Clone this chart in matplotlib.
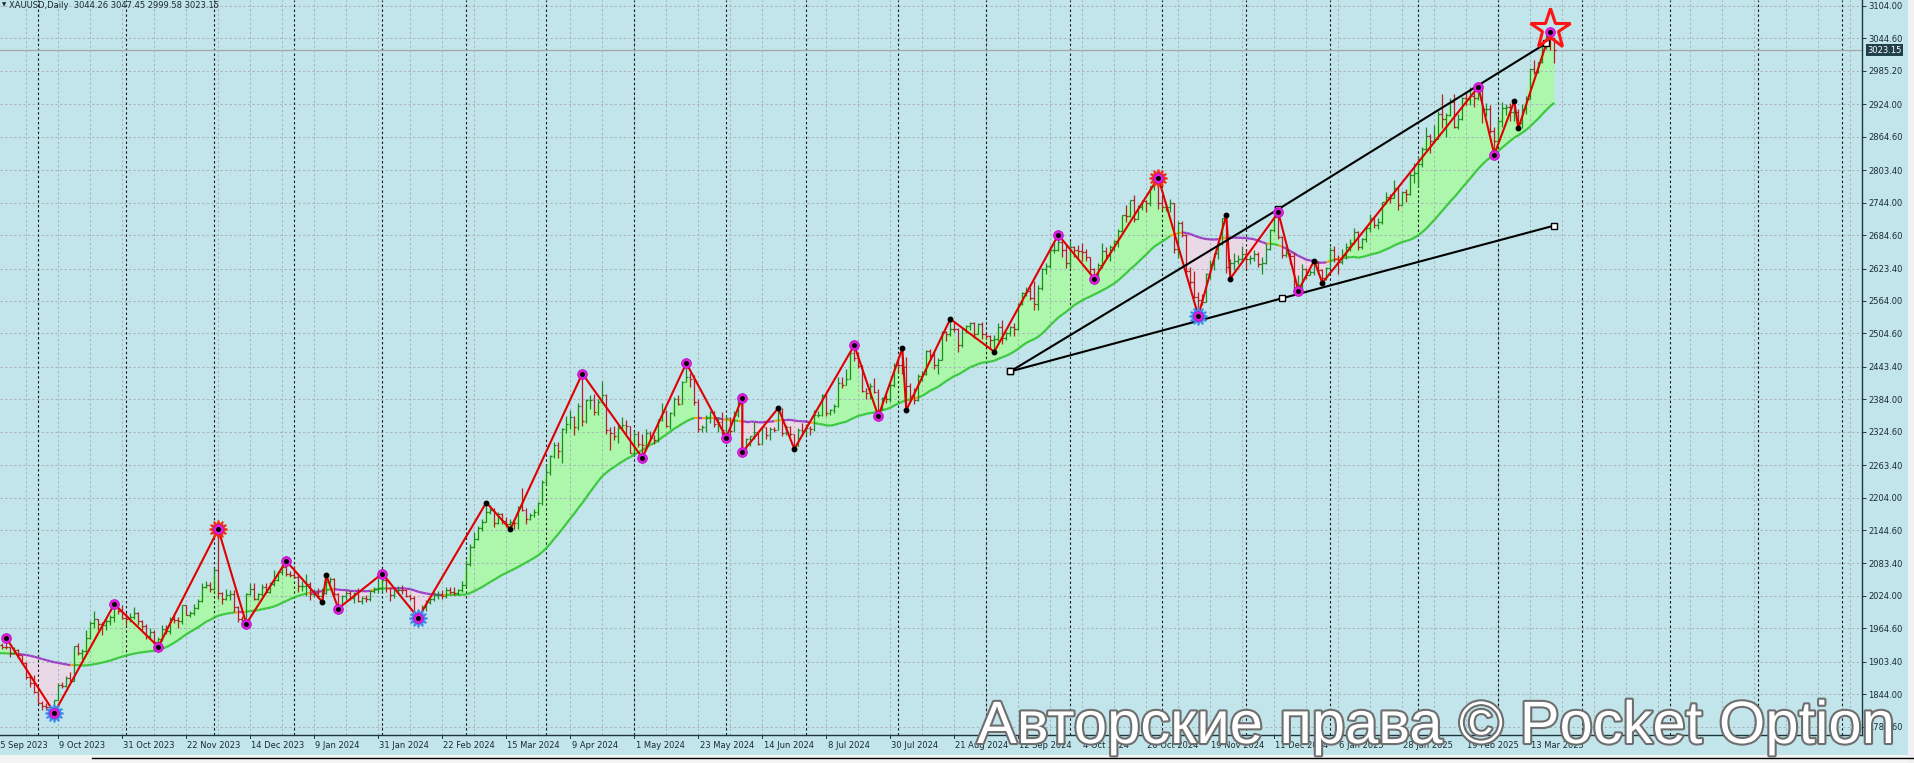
import numpy as np
import pandas as pd
import matplotlib
matplotlib.use("Agg")
import matplotlib.pyplot as plt
import matplotlib.patheffects as pe
import matplotlib.transforms as mtransforms
from matplotlib.collections import LineCollection
from matplotlib.patches import Rectangle
from matplotlib.lines import Line2D

# ---- data: XAUUSD daily bars, 18 Sep 2023 .. 21 Mar 2025 ----
first_day = "2023-09-18"
holidays = ["2023-12-25", "2024-01-01", "2024-03-29", "2024-12-25", "2025-01-01"]

# closes before the first visible bar (only used for the moving average)
warmup_close = [1944, 1934, 1934, 1943, 1936, 1925, 1927, 1913, 1914, 1907, 1901, 1892,
                1889, 1889, 1895, 1898, 1915, 1917, 1914, 1920, 1937, 1942, 1940,
                1940, 1939, 1926, 1917, 1919, 1919, 1922, 1913, 1908, 1910, 1924]

close = [
    1934, 1931, 1930, 1920, 1925, 1916, 1901, 1875, 1865, 1849,
    1828, 1822, 1821, 1820, 1833, 1861, 1860, 1874, 1868, 1932, 1920, 1923, 1947, 1974, 1981, 1973, 1970, 1979, 1985, 2006, 1996, 1983,
    1982, 1985, 1992, 1978, 1969, 1950, 1958, 1940, 1946, 1963, 1959, 1981, 1980, 1978, 2008, 1990, 1992, 2002, 2014, 2041, 2044, 2036,
    2072, 2029, 2019, 2025, 2028, 2004, 1982, 1979, 2027, 2036, 2019, 2027, 2040, 2031, 2045, 2053, 2067, 2077, 2065, 2063,
    2059, 2042, 2043, 2045, 2027, 2030, 2024, 2029, 2049, 2055, 2028, 2006, 2023, 2029, 2021, 2029, 2014, 2020, 2018, 2033, 2037, 2039,
    2054, 2039, 2025, 2035, 2035, 2034, 2024, 2020, 1992, 1992, 2004, 2013, 2018, 2025, 2025, 2024, 2035, 2031, 2030, 2034, 2044,
    2083, 2114, 2128, 2148, 2160, 2178, 2182, 2158, 2174, 2162, 2155, 2160, 2157, 2186, 2181, 2165, 2172, 2178, 2195, 2233,
    2251, 2280, 2300, 2290, 2329, 2339, 2352, 2333, 2372, 2344, 2383, 2383, 2361, 2379, 2392, 2327, 2322, 2316, 2332, 2337, 2335, 2286,
    2320, 2303, 2301, 2323, 2314, 2309, 2346, 2360, 2336, 2358, 2385, 2376, 2415, 2425, 2421, 2379, 2329, 2333, 2350, 2360, 2338, 2343, 2327,
    2350, 2326, 2355, 2375, 2293, 2311, 2316, 2324, 2303, 2333, 2319, 2329, 2328, 2360, 2322, 2334, 2320, 2298, 2327, 2326,
    2332, 2330, 2356, 2356, 2392, 2359, 2364, 2371, 2414, 2411, 2422, 2469, 2459, 2445, 2400, 2396, 2409, 2398, 2364, 2387, 2384, 2411, 2447,
    2446, 2443, 2409, 2390, 2382, 2427, 2431, 2472, 2465, 2447, 2456, 2507, 2504, 2513, 2512, 2484, 2512, 2518, 2524, 2504, 2521, 2503,
    2499, 2493, 2495, 2516, 2497, 2506, 2516, 2512, 2558, 2578, 2582, 2570, 2559, 2587, 2622, 2628, 2657, 2657, 2672, 2658, 2634,
    2662, 2658, 2656, 2653, 2644, 2622, 2608, 2630, 2656, 2649, 2662, 2674, 2692, 2721, 2720, 2748, 2714, 2736, 2747, 2743, 2774, 2788, 2743,
    2736, 2736, 2743, 2659, 2706, 2685, 2618, 2598, 2572, 2565, 2563, 2613, 2631, 2651, 2670, 2715, 2626, 2633, 2638, 2640, 2650,
    2640, 2643, 2650, 2632, 2633, 2660, 2694, 2718, 2681, 2648, 2652, 2646, 2586, 2594, 2622, 2612, 2617, 2634, 2621, 2606, 2624,
    2658, 2640, 2635, 2648, 2662, 2670, 2690, 2663, 2677, 2697, 2715, 2703, 2708, 2745, 2755, 2753, 2770, 2740, 2763, 2760, 2795, 2798,
    2815, 2842, 2866, 2856, 2861, 2907, 2898, 2904, 2928, 2883, 2898, 2935, 2933, 2939, 2935, 2951, 2915, 2916, 2876, 2857,
    2893, 2918, 2920, 2910, 2910, 2889, 2915, 2934, 2989, 2984, 3001, 3035, 3047, 3044, 3023,
]
high = [
    1937, 1937, 1947, 1931, 1930, 1926, 1916, 1903, 1880, 1879,
    1849, 1831, 1828, 1825, 1834, 1865, 1867, 1877, 1885, 1933, 1938, 1927, 1962, 1979, 1997, 1982, 1976, 1983, 1990, 2009, 2007, 2008,
    1992, 1993, 2003, 1994, 1980, 1972, 1965, 1961, 1948, 1970, 1971, 1985, 1993, 1986, 2008, 2007, 1996, 2009, 2018, 2048, 2052, 2049,
    2075, 2146, 2031, 2036, 2034, 2035, 2006, 1988, 2030, 2048, 2047, 2029, 2046, 2047, 2049, 2071, 2070, 2083, 2088, 2070,
    2078, 2065, 2051, 2064, 2049, 2037, 2038, 2039, 2062, 2059, 2056, 2029, 2026, 2034, 2033, 2032, 2038, 2023, 2025, 2035, 2040, 2056,
    2065, 2066, 2040, 2039, 2042, 2044, 2037, 2027, 2024, 1995, 2007, 2016, 2021, 2031, 2033, 2034, 2041, 2040, 2040, 2037, 2052,
    2089, 2119, 2141, 2152, 2165, 2195, 2190, 2185, 2178, 2175, 2168, 2164, 2163, 2188, 2222, 2185, 2176, 2183, 2196, 2236,
    2266, 2282, 2305, 2305, 2331, 2354, 2365, 2354, 2378, 2431, 2384, 2392, 2393, 2385, 2418, 2393, 2334, 2335, 2339, 2352, 2346, 2336,
    2326, 2326, 2320, 2330, 2326, 2318, 2348, 2378, 2364, 2360, 2389, 2392, 2418, 2450, 2433, 2428, 2385, 2337, 2356, 2362, 2362, 2351, 2360,
    2353, 2352, 2362, 2388, 2387, 2313, 2317, 2342, 2325, 2335, 2331, 2334, 2334, 2368, 2368, 2337, 2335, 2320, 2331, 2340,
    2338, 2335, 2365, 2363, 2393, 2393, 2366, 2375, 2424, 2425, 2439, 2470, 2483, 2470, 2446, 2405, 2413, 2423, 2402, 2389, 2394, 2413, 2451,
    2462, 2477, 2462, 2413, 2404, 2431, 2436, 2474, 2476, 2473, 2459, 2509, 2509, 2531, 2525, 2515, 2513, 2520, 2526, 2525, 2524, 2525,
    2506, 2502, 2502, 2524, 2529, 2507, 2518, 2524, 2560, 2581, 2589, 2589, 2600, 2593, 2625, 2634, 2664, 2670, 2685, 2674, 2667,
    2673, 2665, 2667, 2670, 2660, 2645, 2625, 2633, 2670, 2662, 2666, 2676, 2695, 2722, 2740, 2749, 2758, 2740, 2749, 2748, 2775, 2789, 2790,
    2757, 2746, 2750, 2744, 2711, 2710, 2686, 2627, 2618, 2581, 2576, 2615, 2639, 2652, 2673, 2716, 2721, 2641, 2651, 2648, 2665,
    2658, 2649, 2657, 2654, 2645, 2670, 2696, 2721, 2726, 2683, 2660, 2651, 2654, 2611, 2632, 2625, 2620, 2638, 2637, 2623, 2627,
    2662, 2665, 2649, 2660, 2671, 2678, 2697, 2692, 2679, 2700, 2724, 2719, 2716, 2746, 2763, 2760, 2786, 2772, 2765, 2769, 2799, 2817,
    2830, 2845, 2882, 2870, 2886, 2911, 2942, 2908, 2935, 2943, 2906, 2938, 2947, 2955, 2954, 2956, 2953, 2927, 2922, 2882,
    2897, 2928, 2925, 2926, 2930, 2915, 2925, 2940, 2990, 3005, 3002, 3038, 3050, 3057, 3047,
]
low = [
    1921, 1927, 1926, 1913, 1917, 1911, 1899, 1872, 1858, 1846,
    1828, 1815, 1816, 1813, 1810, 1837, 1855, 1857, 1867, 1868, 1915, 1908, 1922, 1946, 1965, 1961, 1953, 1962, 1970, 1976, 1991, 1981,
    1970, 1977, 1982, 1970, 1961, 1945, 1947, 1936, 1931, 1941, 1955, 1954, 1975, 1965, 1972, 1990, 1986, 1989, 2001, 2013, 2038, 2031,
    2034, 2018, 2010, 2016, 2017, 1995, 1976, 1975, 1973, 2026, 2016, 2016, 2024, 2029, 2029, 2043, 2052, 2062, 2061, 2058,
    2057, 2031, 2033, 2024, 2016, 2022, 2020, 2013, 2027, 2047, 2023, 2001, 2005, 2016, 2016, 2011, 2012, 2009, 2012, 2014, 2029, 2030,
    2032, 2031, 2015, 2021, 2030, 2027, 2022, 2016, 1990, 1984, 1989, 1996, 2010, 2015, 2019, 2019, 2021, 2027, 2026, 2026, 2031,
    2043, 2079, 2112, 2126, 2143, 2159, 2174, 2150, 2155, 2155, 2150, 2146, 2147, 2146, 2179, 2155, 2163, 2168, 2172, 2191,
    2228, 2246, 2276, 2277, 2268, 2322, 2330, 2319, 2327, 2335, 2341, 2366, 2355, 2355, 2377, 2320, 2292, 2310, 2304, 2330, 2321, 2285,
    2281, 2297, 2277, 2291, 2308, 2303, 2305, 2345, 2334, 2330, 2354, 2373, 2375, 2415, 2407, 2374, 2325, 2324, 2325, 2341, 2334, 2324, 2319,
    2314, 2316, 2326, 2352, 2287, 2287, 2298, 2312, 2300, 2303, 2311, 2309, 2324, 2328, 2316, 2318, 2316, 2293, 2299, 2319,
    2318, 2319, 2326, 2352, 2353, 2353, 2356, 2358, 2369, 2405, 2410, 2421, 2455, 2442, 2398, 2385, 2385, 2396, 2353, 2364, 2378, 2379, 2407,
    2432, 2430, 2364, 2383, 2376, 2381, 2418, 2428, 2459, 2440, 2431, 2456, 2491, 2500, 2507, 2470, 2479, 2505, 2510, 2497, 2505, 2494,
    2494, 2478, 2471, 2490, 2485, 2493, 2500, 2500, 2511, 2556, 2574, 2566, 2547, 2547, 2584, 2613, 2624, 2651, 2655, 2644, 2625,
    2624, 2645, 2643, 2638, 2638, 2614, 2605, 2603, 2625, 2642, 2637, 2655, 2663, 2690, 2708, 2717, 2708, 2715, 2730, 2726, 2737, 2768, 2732,
    2730, 2728, 2726, 2652, 2643, 2681, 2610, 2589, 2570, 2537, 2556, 2562, 2605, 2621, 2641, 2667, 2615, 2605, 2620, 2632, 2636,
    2622, 2632, 2637, 2626, 2613, 2632, 2658, 2690, 2677, 2643, 2645, 2632, 2585, 2583, 2584, 2605, 2611, 2612, 2614, 2597, 2603,
    2624, 2636, 2614, 2631, 2641, 2656, 2668, 2657, 2660, 2672, 2691, 2697, 2696, 2704, 2741, 2744, 2752, 2731, 2739, 2745, 2758, 2780,
    2772, 2810, 2838, 2834, 2853, 2861, 2880, 2864, 2902, 2880, 2879, 2896, 2922, 2922, 2920, 2932, 2889, 2902, 2871, 2832,
    2855, 2883, 2905, 2894, 2894, 2880, 2881, 2906, 2933, 2979, 2981, 2999, 3025, 3024, 2999,
]

# zigzag pivots: date, price, marker kind
pivots = [
    ("2023-09-20", 1947, "pink"), ("2023-10-06", 1810, "blue"), ("2023-10-27", 2009, "pink"),
    ("2023-11-13", 1931, "pink"), ("2023-12-04", 2146, "red"), ("2023-12-13", 1973, "pink"),
    ("2023-12-28", 2088, "pink"), ("2024-01-11", 2013, "black"), ("2024-01-12", 2062, "black"),
    ("2024-01-17", 2001, "pink"), ("2024-02-01", 2065, "pink"), ("2024-02-14", 1984, "blue"),
    ("2024-03-08", 2195, "black"), ("2024-03-18", 2146, "black"), ("2024-04-12", 2431, "pink"),
    ("2024-05-03", 2277, "pink"), ("2024-05-20", 2450, "pink"), ("2024-06-03", 2314, "pink"),
    ("2024-06-07", 2387, "pink"), ("2024-06-07", 2287, "pink"), ("2024-06-20", 2368, "black"),
    ("2024-06-26", 2293, "black"), ("2024-07-17", 2483, "pink"), ("2024-07-25", 2353, "pink"),
    ("2024-08-02", 2477, "black"), ("2024-08-05", 2364, "black"), ("2024-08-20", 2531, "black"),
    ("2024-09-04", 2471, "black"), ("2024-09-26", 2685, "pink"), ("2024-10-09", 2605, "pink"),
    ("2024-10-31", 2790, "red"), ("2024-11-14", 2537, "blue"), ("2024-11-25", 2721, "black"),
    ("2024-11-26", 2605, "black"), ("2024-12-12", 2726, "pink"), ("2024-12-19", 2583, "pink"),
    ("2024-12-26", 2638, "black"), ("2024-12-30", 2597, "black"), ("2025-02-24", 2956, "pink"),
    ("2025-02-28", 2832, "pink"), ("2025-03-07", 2930, "black"), ("2025-03-10", 2880, "black"),
    ("2025-03-20", 3057, "pink"),
]
signal_star = ("2025-03-20", 3062)

# hand drawn trend lines
upper_line = [("2024-09-10", 2435), ("2024-12-12", 2732), ("2025-03-19", 3036)]
lower_line = [("2024-09-10", 2435), ("2024-12-13", 2569), ("2025-03-21", 2702)]

price_ticks = [3104.00, 3044.60, 2985.20, 2924.00, 2864.60, 2803.40, 2744.00, 2684.60,
               2623.40, 2564.00, 2504.60, 2443.40, 2384.00, 2324.60, 2263.40, 2204.00,
               2144.60, 2083.40, 2024.00, 1964.60, 1903.40, 1844.00, 1784.60]
last_price = 3023.15
header = "XAUUSD,Daily  3044.26 3047.45 2999.58 3023.15"
watermark = "Авторские права © Pocket Option"
ma_period = 34

# ---- colours ----
BG = "#C1E5EA"
GRID = "#A9B5B8"
UP, DN = "#1F8A1F", "#B32222"
FILL_UP, FILL_DN = "#ADF7AD", "#E9D8E5"
MA_UP, MA_DN, MA_X = "#3CC83C", "#9A3FC4", "#F0A020"
ZZ = "#E00000"
TXT = "#1C2B33"

# trading days (calendar reaches back before the first bar for the axis labels)
days = pd.bdate_range("2023-08-01", "2025-07-31")
days = days[~days.isin(pd.to_datetime(holidays))]
pos = {d: i for i, d in enumerate(days)}

def xi(d):
    return pos[pd.Timestamp(d)]

n = len(close)
off = xi(first_day)
x = off + np.arange(n)

close = np.array(close, float)
high = np.array(high, float)
low = np.array(low, float)
opn = np.r_[warmup_close[-1], close[:-1]]
high = np.maximum(high, np.maximum(opn, close))
low = np.minimum(low, np.minimum(opn, close))

ma = pd.Series(np.r_[warmup_close, close]).rolling(ma_period).mean().to_numpy()[-n:]

# ---- figure ----
W, H = 1915, 763
fig = plt.figure(figsize=(W / 100, H / 100), dpi=100, facecolor=BG)
ax = fig.add_axes([0, (H - 735) / H, 1862 / W, 735 / H], facecolor=BG)

i0 = xi("2023-10-02")
left = i0 - 38.3 / 4
ax.set_xlim(left, left + 1862 / 4)
ax.set_ylim(3104 - 729 * 1.8307, 3104 + 6 * 1.8307)

# grid
for p in price_ticks:
    ax.axhline(p, color=GRID, lw=0.75, dashes=(2.2, 2.2), zorder=1.5)
lbl0 = xi("2023-09-15")
for k in np.arange(lbl0 - 16, len(days), 8):
    ax.axvline(k, color=GRID, lw=0.75, dashes=(2.2, 2.2), zorder=1.5)

# month separators
month_first = pd.Series(np.arange(len(days)), index=days).groupby(days.to_period("M")).first()
for k in month_first.values:
    ax.axvline(k, color="#1A1A1A", lw=0.8, dashes=(2.2, 2.2), zorder=1.6)

# filled band between price and average
ax.fill_between(x, close, ma, where=close >= ma, interpolate=True, color=FILL_UP, lw=0, zorder=1)
ax.fill_between(x, close, ma, where=close < ma, interpolate=True, color=FILL_DN, lw=0, zorder=1)

# moving average coloured by side
segs, cols = [], []
for i in range(n - 1):
    segs.append([(x[i], ma[i]), (x[i + 1], ma[i + 1])])
    a, b = close[i] >= ma[i], close[i + 1] >= ma[i + 1]
    cols.append(MA_UP if a and b else (MA_DN if not a and not b else MA_X))
ax.add_collection(LineCollection(segs, colors=cols, linewidths=1.6, zorder=2))

# OHLC bars
segs, cols = [], []
for i in range(n):
    c = UP if close[i] >= opn[i] else DN
    xx = x[i]
    segs += [[(xx, low[i]), (xx, high[i])],
             [(xx - 0.45, opn[i]), (xx, opn[i])],
             [(xx, close[i]), (xx + 0.45, close[i])]]
    cols += [c] * 3
ax.add_collection(LineCollection(segs, colors=cols, linewidths=0.9, zorder=3))

# zigzag
zx = [xi(d) for d, p, k in pivots]
zy = [p for d, p, k in pivots]
ax.plot(zx, zy, color=ZZ, lw=1.5, zorder=4, solid_joinstyle="miter")

# trend lines
for line in (upper_line, lower_line):
    lx = [xi(d) for d, p in line]
    ly = [p for d, p in line]
    ax.plot(lx, ly, color="black", lw=1.5, zorder=5)
    ax.plot(lx, ly, ls="none", marker="s", ms=4.2, mfc="white", mec="black", mew=1, zorder=6)

# pivot markers
for d, p, k in pivots:
    xx = xi(d)
    if k == "black":
        ax.plot(xx, p, marker="o", ms=3.2, color="black", zorder=7)
        continue
    if k in ("red", "blue"):
        ax.plot(xx, p, marker=(12, 1, 0), ms=13, mfc="none",
                mec="#F03010" if k == "red" else "#3C8CF0", mew=1.2, zorder=7)
    ax.plot(xx, p, marker="o", ms=7, mfc="#E01CE0", mec="#C010C0", mew=0.6, zorder=7)
    ax.plot(xx, p, marker="o", ms=2.6, color="black", zorder=8)

ax.plot(xi(signal_star[0]), signal_star[1], marker="*", ms=30, mfc="none",
        mec="#FF1414", mew=2.2, zorder=9)

# bid line
ax.axhline(last_price, color="#A8A8A8", lw=0.9, zorder=1.7)

# axes styling
for s in ("left", "top"):
    ax.spines[s].set_visible(False)
for s in ("right", "bottom"):
    ax.spines[s].set_color("#1E3640")
    ax.spines[s].set_linewidth(1)
ax.yaxis.tick_right()
ax.set_yticks(price_ticks)
ax.set_yticklabels([f"{p:.2f}" for p in price_ticks])
ax.tick_params(axis="y", length=3, width=0.7, color="#1E3640", pad=1.5,
               labelsize=6, labelcolor=TXT)
ax.set_xticks([])

trans = mtransforms.blended_transform_factory(ax.transData, ax.transAxes)
last_bar = x[-1]
for k in np.arange(lbl0, last_bar + 1, 16):
    d = days[k]
    ax.text(k + 0.3, -10 / 735, f"{d.day} {d.strftime('%b %Y')}", transform=trans,
            ha="left", va="center", fontsize=6, color=TXT, clip_on=False)
    ax.plot([k, k], [0, -3 / 735], transform=trans, color="#1E3640", lw=0.7, clip_on=False)

ytrans = mtransforms.blended_transform_factory(ax.transAxes, ax.transData)
ax.text(1 + 5 / 1862, last_price, f"{last_price:.2f}", transform=ytrans, ha="left",
        va="center", fontsize=6, color="white",
        bbox=dict(boxstyle="square,pad=0.18", fc="#22404C", ec="none"))

# header
fig.text(2 / W, 1 - 5 / H, "▼", fontsize=4, va="center", color=TXT)
fig.text(9 / W, 1 - 5 / H, header, fontsize=6, va="center", color=TXT)

# bottom tab strip and right border
fig.add_artist(Rectangle((0, 0), 1, (H - 755) / H, transform=fig.transFigure,
                         fc="#F4F4F4", ec="none", zorder=0.5))
fig.add_artist(Line2D([92 / W, 1], [(H - 758) / H] * 2, transform=fig.transFigure,
                      color="black", lw=1, zorder=0.6))
fig.add_artist(Rectangle((1908 / W, 0), 7 / W, 1, transform=fig.transFigure,
                         fc="#F0F0F0", ec="none", zorder=0.5))

# watermark
fig.text(977 / W, 1 - 743 / H, watermark, fontsize=43, color="white", va="baseline",
         family=["Liberation Sans", "DejaVu Sans"],
         path_effects=[pe.withStroke(linewidth=3, foreground="#6E6E6E")], zorder=20)

fig.savefig("out.png", dpi=100, facecolor=BG)
